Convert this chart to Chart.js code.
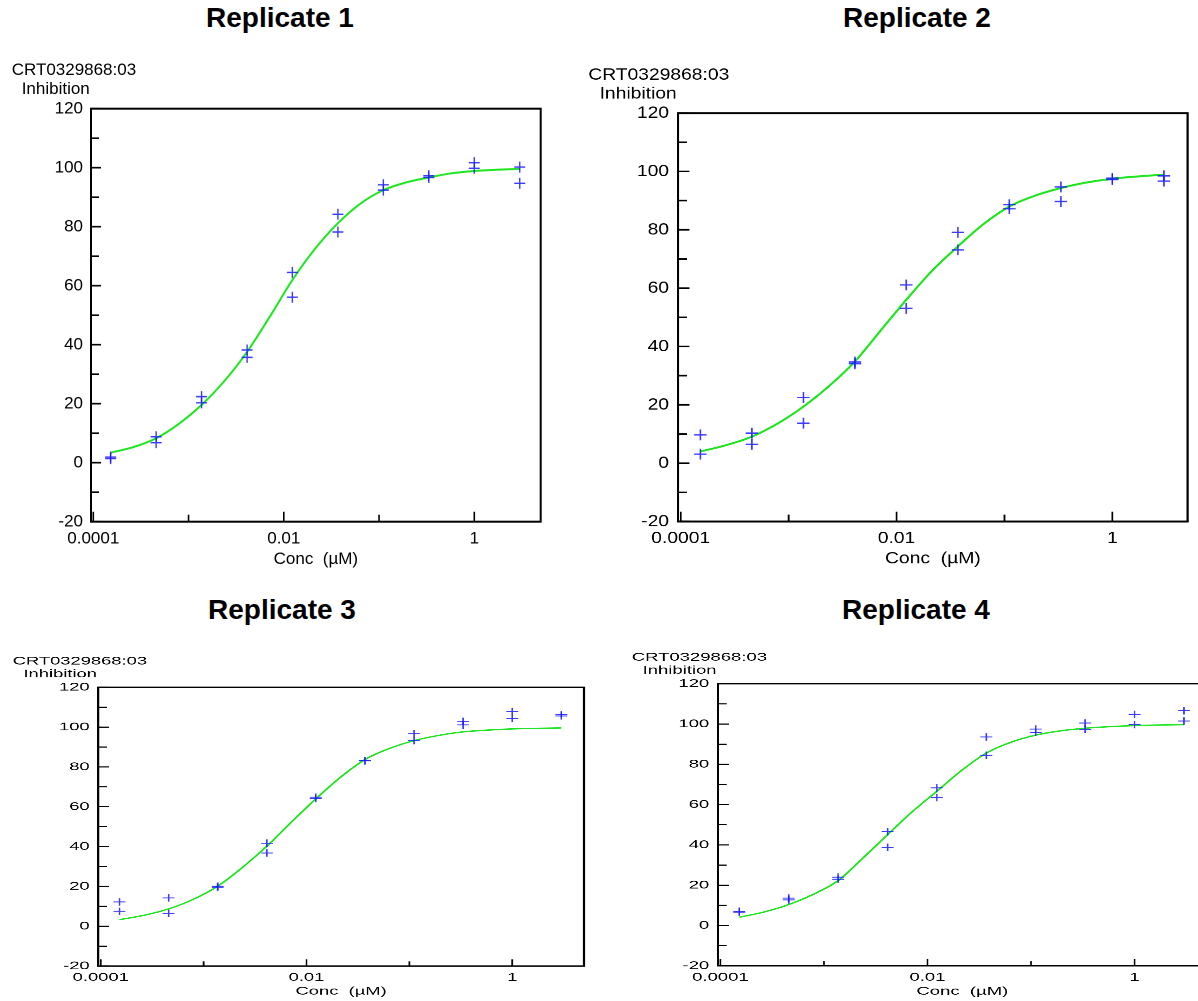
<!DOCTYPE html>
<html>
<head>
<meta charset="utf-8">
<title>CRT0329868:03 replicates</title>
<script src="https://cdn.jsdelivr.net/npm/chart.js@4.4.1/dist/chart.umd.min.js"></script>
<style>
  html, body { margin: 0; padding: 0; background: #fff; }
  body { width: 1198px; height: 1001px; position: relative; overflow: hidden; }
  .title { position: absolute; font: bold 28px "Liberation Sans", Arial, sans-serif; line-height: 1; white-space: nowrap; transform: translateX(-50%); color: #000; }
  .panel { position: absolute; width: 560px; height: 520px; transform-origin: 0 0; }
</style>
</head>
<body>
<div class="title" style="left:280px; top:3.6px">Replicate 1</div>
<div class="title" style="left:917px; top:3.6px">Replicate 2</div>
<div class="title" style="left:282px; top:595.6px">Replicate 3</div>
<div class="title" style="left:916px; top:595.6px">Replicate 4</div>

<div class="panel" id="p1"><canvas id="c1" width="560" height="520"></canvas></div>
<div class="panel" id="p2"><canvas id="c2" width="560" height="520"></canvas></div>
<div class="panel" id="p3"><canvas id="c3" width="560" height="520"></canvas></div>
<div class="panel" id="p4"><canvas id="c4" width="560" height="520"></canvas></div>

<script>
// concentrations (µM), 3-fold dilution series
const conc = [0.000152, 0.000457, 0.00137, 0.00412, 0.0123, 0.037, 0.111, 0.333, 1, 3];

// inhibition values, two wells per concentration
const rep1A = [1.4, 8.8, 22.4, 38.2, 64.5, 84.2, 94.2, 97.3, 101.7, 100.2];
const rep1B = [1.9, 6.8, 20.3, 35.7, 56.1, 78.2, 92.4, 96.7, 99.8, 94.7];
const rep2A = [9.7, 10.3, 22.5, 34.7, 61.1, 79.1, 88.6, 94.7, 97.7, 98.5];
const rep2B = [3.1, 6.5, 13.7, 34.1, 53.1, 73.1, 87.2, 89.7, 97.2, 96.7];
const rep3A = [12.2, 14.2, 20.1, 41.7, 64.8, 83.3, 96.7, 102.9, 107.8, 106.3];
const rep3B = [7.5, 6.5, 19.6, 36.8, 64.1, 83.0, 93.2, 101.1, 104.3, 105.6];
const rep4A = [7.1, 13.6, 24.0, 46.6, 68.3, 93.6, 97.5, 100.5, 104.8, 106.6];
const rep4B = [6.6, 12.7, 23.0, 38.8, 63.5, 84.5, 95.9, 97.4, 99.7, 101.5];

// fitted curves
const curveConc = [0.000152, 0.000264, 0.000457, 0.000792, 0.00137, 0.00238, 0.00412, 0.00713, 0.0123, 0.0214,
                   0.037, 0.0642, 0.111, 0.192, 0.333, 0.577, 1, 1.73, 3];
const fit1 = [3.4, 5.3, 8.3, 13.2, 19.6, 27.7, 37.6, 49.5, 61.9, 72.6, 81.2, 87.9, 92.4, 95.0, 96.7, 98.1, 98.9, 99.3, 99.6];
const fit2 = [4.0, 6.2, 9.1, 13.6, 19.4, 26.5, 34.9, 45.5, 56.0, 66.0, 74.3, 82.0, 88.0, 91.7, 94.3, 96.2, 97.5, 98.3, 98.9];
const fit3 = [3.3, 5.5, 8.7, 13.5, 20.1, 29.5, 40.2, 52.3, 63.9, 74.8, 83.7, 89.3, 93.2, 95.8, 97.6, 98.5, 99.1, 99.4, 99.6];
const fit4 = [4.1, 6.7, 10.4, 15.5, 22.3, 33.5, 45.1, 56.5, 66.6, 77.0, 85.6, 91.0, 94.5, 96.6, 97.9, 98.7, 99.2, 99.5, 99.7];

// axes
const xMin = 0.0000946;
const xMax = 4.98;
const xTickValues = [0.0001, 0.01, 1];
const xTickLabels = ['0.0001', '0.01', '1'];
const xMinorTicks = [0.001, 0.1];
const yMajorTicks = [-20, 0, 20, 40, 60, 80, 100, 120];
const yMinorTicks = [-10, 10, 30, 50, 70, 90, 110];
const yTitle = ['CRT0329868:03', 'Inhibition'];
const xTitle = 'Conc  (\u00b5M)';

// where each panel sits and how it is stretched
const panels = [
    { id: 'p1', canvas: 'c1', left: 0, top: 52, sx: 1, sy: 1, a: rep1A, b: rep1B, fit: fit1 },
    { id: 'p2', canvas: 'c2', left: 575, top: 57.2, sx: 1.133, sy: 0.989, a: rep2A, b: rep2B, fit: fit2 },
    { id: 'p3', canvas: 'c3', left: -0.5, top: 649.4, sx: 1.080, sy: 0.675, a: rep3A, b: rep3B, fit: fit3 },
    { id: 'p4', canvas: 'c4', left: 619.1, top: 645.3, sx: 1.087, sy: 0.683, a: rep4A, b: rep4B, fit: fit4 }
];

const FONT = '"Liberation Sans", Arial, sans-serif';
Chart.defaults.font.family = FONT;
Chart.defaults.color = '#000';

const frameAndTicks = {
    id: 'frameAndTicks',
    afterDraw(chart) {
        const { ctx, chartArea: a, scales: { x, y } } = chart;
        ctx.save();
        ctx.strokeStyle = '#000';
        ctx.lineWidth = 2;
        ctx.strokeRect(a.left, a.top, a.right - a.left, a.bottom - a.top);

        ctx.lineWidth = 1.6;
        ctx.beginPath();
        yMajorTicks.forEach((v) => {
            const py = y.getPixelForValue(v);
            ctx.moveTo(a.left, py); ctx.lineTo(a.left + 10, py);
        });
        yMinorTicks.forEach((v) => {
            const py = y.getPixelForValue(v);
            ctx.moveTo(a.left, py); ctx.lineTo(a.left + 8, py);
        });
        xTickValues.forEach((v) => {
            const px = x.getPixelForValue(v);
            ctx.moveTo(px, a.bottom); ctx.lineTo(px, a.bottom - 10);
        });
        xMinorTicks.forEach((v) => {
            const px = x.getPixelForValue(v);
            ctx.moveTo(px, a.bottom); ctx.lineTo(px, a.bottom - 7);
        });
        ctx.stroke();

        ctx.fillStyle = '#000';
        ctx.font = '17px ' + FONT;
        ctx.textBaseline = 'alphabetic';
        ctx.textAlign = 'left';
        ctx.fillText(yTitle[0], a.left - 79.3, a.top - 33.8);
        ctx.fillText(yTitle[1], a.left - 69.3, a.top - 14.8);
        ctx.textAlign = 'center';
        ctx.fillText(xTitle, (a.left + a.right) / 2, a.bottom + 42.2);
        ctx.restore();
    }
};

function buildChart(p) {
    const wrap = document.getElementById(p.id);
    wrap.style.left = p.left + 'px';
    wrap.style.top = p.top + 'px';
    wrap.style.transform = `scale(${p.sx}, ${p.sy})`;

    const points = [
        ...conc.map((c, i) => ({ x: c, y: p.a[i] })),
        ...conc.map((c, i) => ({ x: c, y: p.b[i] }))
    ];
    const curve = curveConc.map((c, i) => ({ x: c, y: p.fit[i] }));

    return new Chart(document.getElementById(p.canvas), {
        data: {
            datasets: [{
                type: 'scatter',
                data: points,
                pointStyle: 'cross',
                pointRadius: 5.5,
                pointBorderWidth: 1.4,
                borderColor: 'rgba(25, 25, 255, 0.85)',
                backgroundColor: 'rgba(25, 25, 255, 0.85)'
            }, {
                type: 'line',
                data: curve,
                borderColor: '#1ee61e',
                borderWidth: 2,
                pointRadius: 0,
                fill: false,
                cubicInterpolationMode: 'monotone'
            }]
        },
        options: {
            responsive: false,
            animation: false,
            devicePixelRatio: 2,
            layout: { padding: { left: 0, top: 56.7, right: 19.3, bottom: 20.3 } },
            plugins: {
                legend: { display: false },
                tooltip: { enabled: false }
            },
            scales: {
                x: {
                    type: 'logarithmic',
                    min: xMin,
                    max: xMax,
                    grid: { display: false, drawTicks: false },
                    border: { display: false },
                    afterBuildTicks: (s) => { s.ticks = xTickValues.map((v) => ({ value: v })); },
                    afterFit: (s) => { s.height = 30; },
                    ticks: {
                        autoSkip: false,
                        maxRotation: 0,
                        padding: 7,
                        color: '#000',
                        font: { size: 17 },
                        callback: (v, i) => xTickLabels[i]
                    }
                },
                y: {
                    type: 'linear',
                    min: -20,
                    max: 120,
                    grid: { display: false, drawTicks: false },
                    border: { display: false },
                    afterFit: (s) => { s.width = 91; },
                    ticks: {
                        stepSize: 20,
                        padding: 8,
                        color: '#000',
                        font: { size: 17 }
                    }
                }
            }
        },
        plugins: [frameAndTicks]
    });
}

panels.forEach(buildChart);
</script>
</body>
</html>
